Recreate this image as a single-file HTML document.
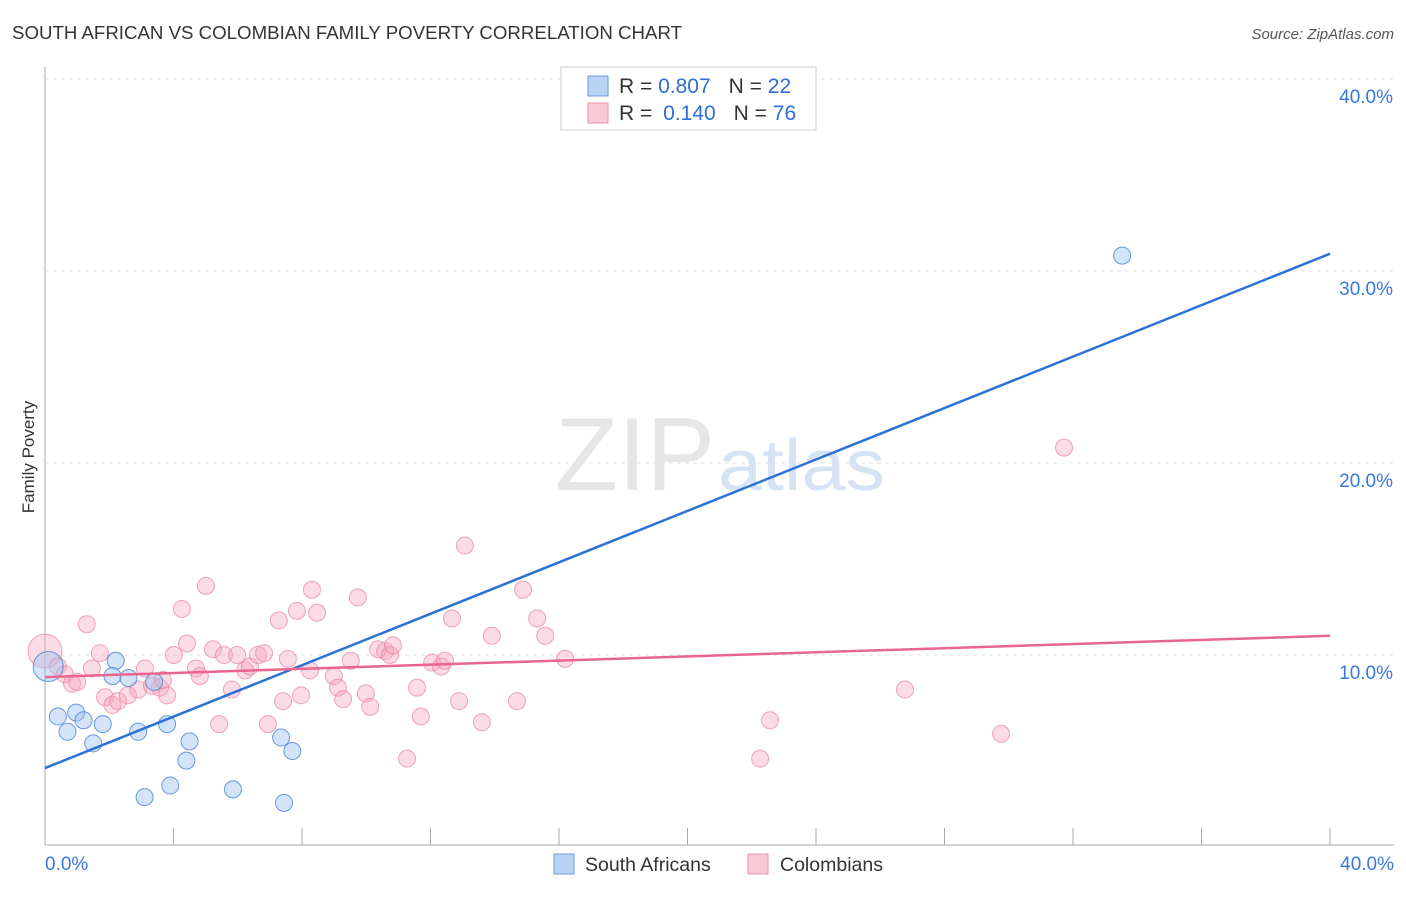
<!DOCTYPE html>
<html><head><meta charset="utf-8"><style>
body{margin:0;background:#fff;font-family:"Liberation Sans",sans-serif;}
svg text{font-family:"Liberation Sans",sans-serif;}
</style></head><body>
<svg id="chart" width="1406" height="892">
<text x="12" y="39" font-size="18" fill="#333" textLength="670" lengthAdjust="spacingAndGlyphs">SOUTH AFRICAN VS COLOMBIAN FAMILY POVERTY CORRELATION CHART</text>
<text x="1394" y="39" font-size="15" fill="#555" text-anchor="end" font-style="italic">Source: ZipAtlas.com</text>
<text x="34" y="457" font-size="17" fill="#333" text-anchor="middle" transform="rotate(-90 34 457)">Family Poverty</text>
<text x="555" y="490" font-size="104" fill="#e6e6e6" textLength="160" lengthAdjust="spacingAndGlyphs" font-family="Liberation Serif">ZIP</text>
<text x="718" y="490" font-size="72" fill="#d5e3f5" textLength="167" lengthAdjust="spacingAndGlyphs">atlas</text>
<g id="grid"></g><g id="pts"></g><g id="lines"></g>
<g>
<rect x="561" y="67" width="255" height="63" fill="#fff" stroke="#ccc"/>
<rect x="588" y="76" width="20" height="20" fill="#b9d3f5" stroke="#6a9ae0"/>
<rect x="588" y="103" width="20" height="20" fill="#f9c9d8" stroke="#ec8fac"/>
<text x="619" y="93" font-size="21" fill="#333">R = <tspan fill="#2d6fd6">0.807</tspan><tspan dx="18">N = </tspan><tspan fill="#2d6fd6">22</tspan></text>
<text x="619" y="120" font-size="21" fill="#333">R = <tspan fill="#2d6fd6" dx="5">0.140</tspan><tspan dx="18">N = </tspan><tspan fill="#2d6fd6">76</tspan></text>
</g>
<g>
<rect x="554" y="854" width="20" height="20" fill="#b9d3f5" stroke="#6a9ae0"/>
<text x="585" y="871" font-size="19.5" fill="#333">South Africans</text>
<rect x="748" y="854" width="20" height="20" fill="#f9c9d8" stroke="#ec8fac"/>
<text x="780" y="871" font-size="19.5" fill="#333">Colombians</text>
</g>
</svg>
<script>
const yTicks=[10,20,30,40];
const yTickLabels=["10.0%","20.0%","30.0%","40.0%"];
const xTickLabels=["0.0%","40.0%"];
const blueX=[0.1,0.4,0.7,0.97,1.2,1.5,1.8,2.2,2.1,2.6,2.9,3.1,3.4,3.8,3.9,4.4,4.5,5.85,7.35,7.7,7.44,33.53];
const blueY=[9.4,6.8,6.0,7.0,6.6,5.4,6.4,9.7,8.9,8.8,6.0,2.6,8.6,6.4,3.2,4.5,5.5,3.0,5.7,5.0,2.3,30.8];
const pinkX=[0.0,0.4,0.62,0.84,1.0,1.3,1.46,1.71,1.87,2.1,2.27,2.58,2.9,3.11,3.33,3.58,3.67,3.8,4.01,4.26,4.42,4.7,4.82,5.01,5.23,5.42,5.57,5.82,5.98,6.23,6.38,6.63,6.82,6.94,7.28,7.41,7.56,7.84,7.97,8.25,8.31,8.47,8.99,9.12,9.28,9.52,9.74,9.99,10.12,10.37,10.59,10.74,10.83,11.27,11.58,11.7,12.05,12.33,12.45,12.67,12.89,13.07,13.6,13.91,14.69,14.88,15.32,15.57,16.19,22.26,22.57,26.77,29.76,31.72];
const pinkY=[10.2,9.4,9.0,8.5,8.6,11.6,9.3,10.1,7.8,7.4,7.6,7.9,8.2,9.3,8.4,8.3,8.7,7.9,10.0,12.4,10.6,9.3,8.9,13.6,10.3,6.4,10.0,8.2,10.0,9.2,9.4,10.0,10.1,6.4,11.8,7.6,9.8,12.3,7.9,9.2,13.4,12.2,8.9,8.3,7.7,9.7,13.0,8.0,7.3,10.3,10.2,10.0,10.5,4.6,8.3,6.8,9.6,9.4,9.7,11.9,7.6,15.7,6.5,11.0,7.6,13.4,11.9,11.0,9.8,4.6,6.6,8.2,5.9,20.8];
const blueTrend=[4.11,30.9];
const pinkTrend=[8.85,11.0];
const X=v=>45+v/40*1285, Y=v=>847-v/10*192;
const NS="http://www.w3.org/2000/svg";
function mk(t,a,p){const e=document.createElementNS(NS,t);for(const k in a)e.setAttribute(k,a[k]);p.appendChild(e);return e;}
const grid=document.getElementById('grid');
const ax=mk('line',{x1:45,y1:67,x2:45,y2:845,stroke:'#aaa'},grid);


const bx=mk('line',{x1:45,y1:845,x2:1394,y2:845,stroke:'#aaa'},grid);


yTicks.forEach((t,i)=>{
 const g=mk('line',{x1:45,y1:Y(t),x2:1394,y2:Y(t),stroke:'#e2e2e2','stroke-dasharray':'4,4'},grid);
 
 
 const l=mk('text',{x:1393,y:Y(t)+24,'font-size':19,fill:'#3a78d6','text-anchor':'end'},grid);l.textContent=yTickLabels[i];
 
 
});
for(let i=1;i<=10;i++){const t=mk('line',{x1:X(i*4),y1:828,x2:X(i*4),y2:845,stroke:'#aaa'},grid);
 
 }
[[0,'start',45],[40,'end',1394]].forEach((d,i)=>{const l=mk('text',{x:d[2],y:870,'font-size':19,fill:'#3a78d6','text-anchor':d[1]},grid);l.textContent=xTickLabels[i];
 
 });
const pts=document.getElementById('pts');
pinkX.forEach((x,i)=>{const c=mk('circle',{cx:X(x),cy:Y(pinkY[i]),r:i==0?17:8.5,fill:'rgba(245,165,190,0.4)',stroke:'rgba(232,130,160,0.7)'},pts);
 
 });
blueX.forEach((x,i)=>{const c=mk('circle',{cx:X(x),cy:Y(blueY[i]),r:i==0?15:8.5,fill:'rgba(160,195,240,0.45)',stroke:'rgba(70,130,215,0.8)'},pts);
 
 });
const lines=document.getElementById('lines');
const bl=mk('line',{x1:X(0),y1:Y(blueTrend[0]),x2:X(40),y2:Y(blueTrend[1]),stroke:'#2a72d8','stroke-width':2.5},lines);


const pl=mk('line',{x1:X(0),y1:Y(pinkTrend[0]),x2:X(40),y2:Y(pinkTrend[1]),stroke:'#e8658f','stroke-width':2.5},lines);


</script>
</body></html>
